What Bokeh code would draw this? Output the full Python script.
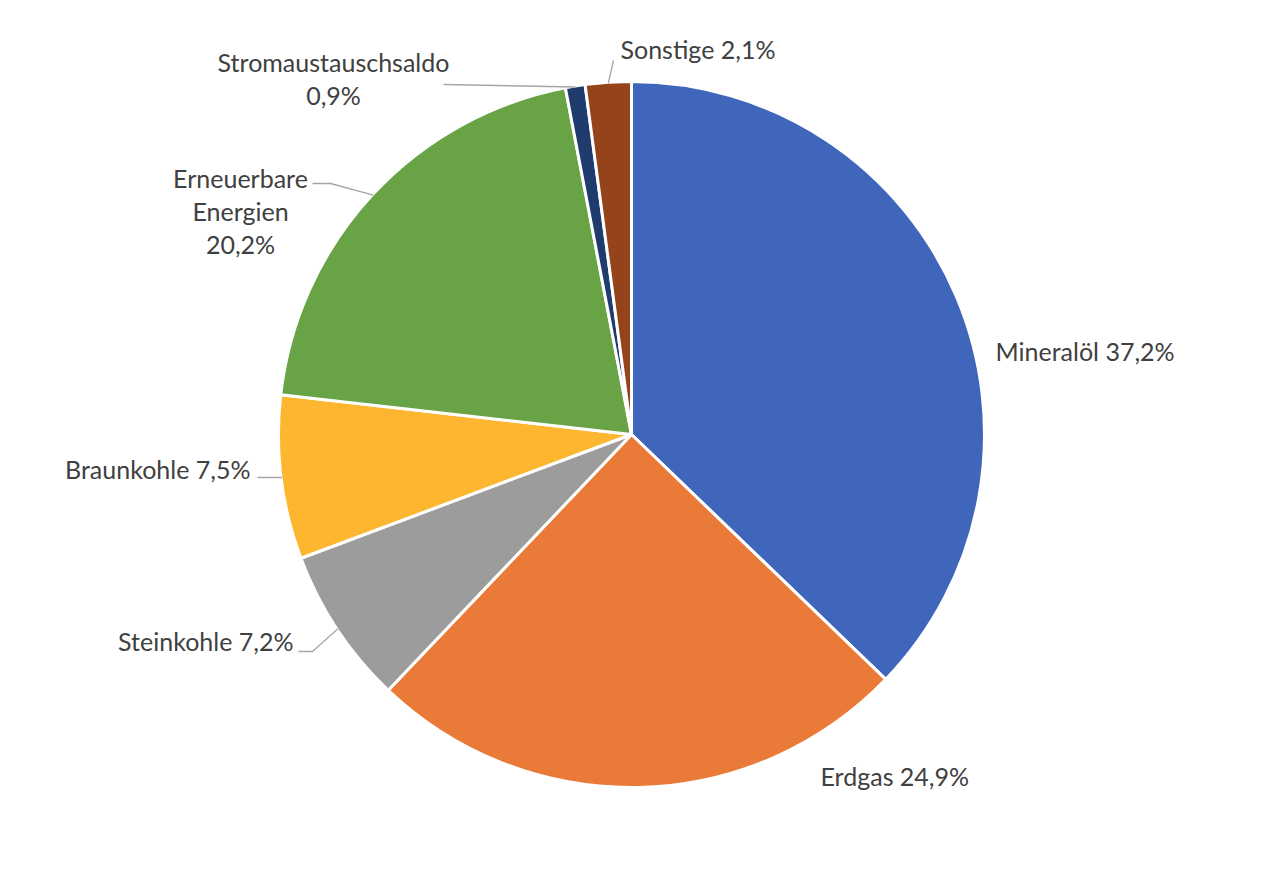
import math

from bokeh.core.properties import value
from bokeh.embed import file_html
from bokeh.models import ColumnDataSource, Range1d
from bokeh.plotting import figure
from bokeh.resources import INLINE

# Primärenergieverbrauch nach Energieträgern (Anteile in %)
categories = ["Mineralöl", "Erdgas", "Steinkohle", "Braunkohle",
              "Erneuerbare Energien", "Stromaustauschsaldo", "Sonstige"]
shares = [37.2, 24.9, 7.2, 7.5, 20.2, 0.9, 2.1]
colors = ["#3F66BA", "#E97A38", "#9C9C9C", "#FCB62F",
          "#68A346", "#1F3C6C", "#94431A"]

# label text broken into lines like in the original
label_lines = {
    "Stromaustauschsaldo": ["Stromaustauschsaldo", "{pct}"],
    "Erneuerbare Energien": ["Erneuerbare", "Energien", "{pct}"],
}

# layout (page pixels, y downwards): label anchor, align, leader start, elbow dx
label_layout = {
    "Mineralöl": ((995, 350), "left", None, 0),
    "Erdgas": ((820, 775), "left", None, 0),
    "Steinkohle": ((293, 640), "right", (298, 651), 14),
    "Braunkohle": ((250, 468), "right", (257, 477), 0),
    "Erneuerbare Energien": ((240, 177), "center", (312, 183), 18),
    "Stromaustauschsaldo": ((333, 61), "center", (443, 84), 0),
    "Sonstige": ((620, 48), "left", (613, 60), 0),
}

W, H = 1248, 856
CX, CY, R = 631, 434, 353
LINE_H = 33


def fy(y):
    # page y (downwards) -> data y (upwards)
    return 872 - y


p = figure(width=W, height=H, output_backend="svg", toolbar_location=None,
           x_range=Range1d(0, W), y_range=Range1d(872 - H, 872),
           min_border=0)
p.axis.visible = False
p.grid.visible = False
p.outline_line_color = None

total = sum(shares)
starts, ends, mids = [], [], []
cum = 0.0
for s in shares:
    a0 = math.pi / 2 - 2 * math.pi * cum / total
    cum += s
    a1 = math.pi / 2 - 2 * math.pi * cum / total
    starts.append(a0)
    ends.append(a1)
    mids.append((a0 + a1) / 2)

src = ColumnDataSource(dict(cat=categories, start=starts, end=ends, color=colors))
p.wedge(x=CX, y=fy(CY), radius=R, start_angle="start", end_angle="end",
        direction="clock", fill_color="color", line_color="white",
        line_width=3, source=src)

# leader lines
xs, ys = [], []
for cat, mid in zip(categories, mids):
    _, _, lead, elbow = label_layout[cat]
    if lead is None:
        continue
    ex = CX + (R - 1) * math.cos(mid)
    ey = fy(CY) + (R - 1) * math.sin(mid)
    xs.append([lead[0], lead[0] + elbow, ex])
    ys.append([fy(lead[1]), fy(lead[1]), ey])
p.multi_line(xs, ys, line_color="#A6A6A6", line_width=1.3)

# labels
for cat, s in zip(categories, shares):
    (lx, ly), align, _, _ = label_layout[cat]
    pct = f"{s:.1f}".replace(".", ",") + "%"
    lines = [t.format(pct=pct) for t in label_lines.get(cat, [cat + " {pct}"])]
    p.text(x=[lx] * len(lines), y=[fy(ly + i * LINE_H) for i in range(len(lines))],
           text=lines, text_font=value("Lato"), text_font_size="25px",
           text_color="#404040", text_align=align, text_baseline="middle")

open("out.html", "w").write(file_html(p, INLINE))
